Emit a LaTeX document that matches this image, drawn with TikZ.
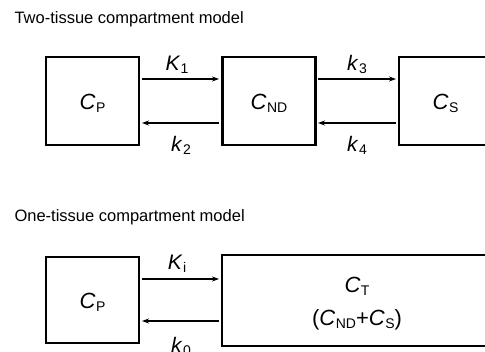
\documentclass[tikz,border=0pt]{standalone}
\usepackage{fontspec}
\setmainfont{Liberation Sans}
\usetikzlibrary{arrows.meta}
\newcommand{\sbs}[1]{\raisebox{-3pt}{\fontsize{14}{16}\selectfont #1}}
\newcommand{\vr}[2]{\textit{#1}\kern0.02em\sbs{#2}}
\tikzset{
  comp/.style={draw=black, line width=2.3pt, minimum width=93pt, minimum height=88pt, inner sep=0pt, font=\fontsize{22}{24}\selectfont},
  flow/.style={line width=1.6pt, -{Stealth[length=7pt,width=5pt]}},
  rate/.style={font=\fontsize{21}{23}\selectfont, anchor=base},
  big/.style={font=\fontsize{22}{24}\selectfont, anchor=base},
  ttl/.style={font=\fontsize{16.5}{19}\selectfont, anchor=base west}
}
\begin{document}
\begin{tikzpicture}[x=1pt,y=-1pt]
\useasboundingbox (0,0) rectangle (485,352);
\clip (0,0) rectangle (485,352);
% Two-tissue
\node[ttl] (t1) at (11,24) {Two-tissue compartment model};
\node[comp] (cp) at (92.5,101) {};
\node[comp] (cnd) at (269,101) {};
\node[comp] (cs) at (445.5,101) {};
\node[big] (cpl) at (92.5,110) {\vr{C}{P}};
\node[big] (cndl) at (269,110) {\vr{C}{ND}};
\node[big] (csl) at (445.5,110) {\vr{C}{S}};
\coordinate (a1s) at (142,79); \coordinate (a1e) at (219,79);
\coordinate (a2s) at (219,123); \coordinate (a2e) at (142,123);
\coordinate (a3s) at (318,79); \coordinate (a3e) at (396,79);
\coordinate (a4s) at (396,123); \coordinate (a4e) at (318,123);
\draw[flow] (a1s) -- (a1e);
\draw[flow] (a2s) -- (a2e);
\draw[flow] (a3s) -- (a3e);
\draw[flow] (a4s) -- (a4e);
\node[rate] (k1) at (177,71) {\vr{K}{1}};
\node[rate] (k2) at (181,152) {\vr{k}{2}};
\node[rate] (k3) at (357,71) {\vr{k}{3}};
\node[rate] (k4) at (357,152) {\vr{k}{4}};
% One-tissue
\node[ttl] (t2) at (11,222) {One-tissue compartment model};
\node[comp, minimum height=86pt] (cp2) at (92.5,300) {};
\node[big] (cp2l) at (92.5,309) {\vr{C}{P}};
\node[comp, minimum width=270pt, minimum height=91pt] (ct) at (357,300.5) {};
\node[big] (ctl) at (357,293) {\vr{C}{T}};
\node[big] (ctl2) at (357,326) {(\vr{C}{ND}+\vr{C}{S})};
\coordinate (b1s) at (142,279); \coordinate (b1e) at (219,279);
\coordinate (b2s) at (219,321); \coordinate (b2e) at (142,321);
\draw[flow] (b1s) -- (b1e);
\draw[flow] (b2s) -- (b2e);
\node[rate] (ki) at (177,270) {\vr{K}{i}};
\node[rate] (k0) at (181,353) {\vr{k}{0}};
\end{tikzpicture}
\end{document}
